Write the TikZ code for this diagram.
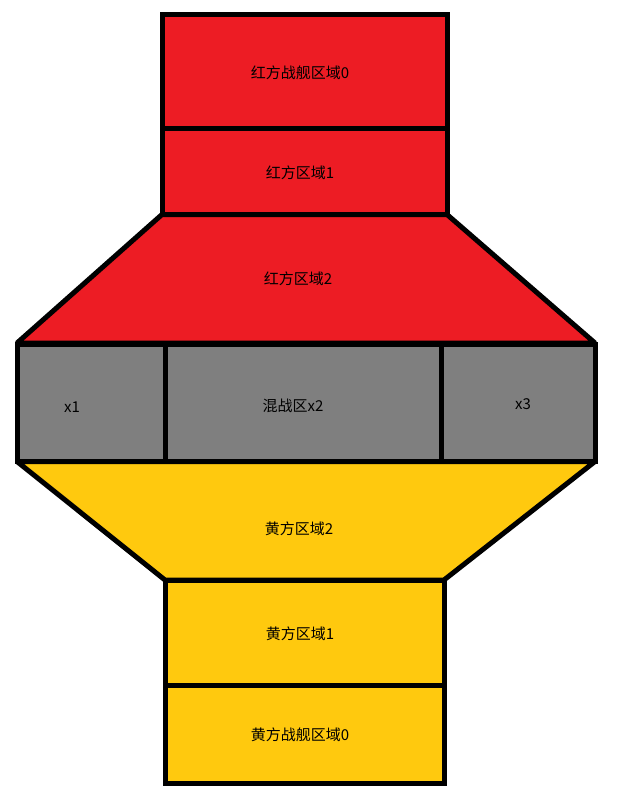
\documentclass[tikz,border=0pt]{standalone}
\usepackage{fontspec}
\newfontfamily\cjk{Noto Sans CJK SC}
\usetikzlibrary{positioning}
\definecolor{paintred}{RGB}{237,28,36}
\definecolor{paintgray}{RGB}{127,127,127}
\definecolor{paintyellow}{RGB}{255,201,14}

\begin{document}
\begin{tikzpicture}[x=1pt,y=-1pt,font=\cjk\fontsize{15}{18}\selectfont,
    zone/.style={draw=black,line width=5pt,line join=miter},
    slope/.style={draw=black,line width=5pt,line join=bevel},
    lbl/.style={inner sep=0pt,text=black}]
  \useasboundingbox (0,0) rectangle (620,796);
  % red side
  \filldraw[slope,fill=paintred] (162,214.5) -- (447,214.5) -- (595,343) -- (17,343) -- cycle;
  \filldraw[zone,fill=paintred] (162,14.5) rectangle (447,128);
  \filldraw[zone,fill=paintred] (162,128) rectangle (447,214.5);
  % yellow side
  \filldraw[slope,fill=paintyellow] (17,461.5) -- (595,461.5) -- (444,580) -- (165,580) -- cycle;
  \filldraw[zone,fill=paintyellow] (165,580) rectangle (444,685.5);
  \filldraw[zone,fill=paintyellow] (165,685.5) rectangle (444,783.5);
  % middle row
  \filldraw[zone,fill=paintgray] (17,344) rectangle (165,461.5);
  \filldraw[zone,fill=paintgray] (165,344) rectangle (441,461.5);
  \filldraw[zone,fill=paintgray] (441,344) rectangle (595,461.5);
  % labels
  \node[lbl] (red0) at (300,73) {红方战舰区域0};
  \node[lbl] (red1) at (300,173) {红方区域1};
  \node[lbl] (red2) at (298,279) {红方区域2};
  \node[lbl] (mx1) at (72,407) {x1};
  \node[lbl] (mx2) at (293,406) {混战区x2};
  \node[lbl] (mx3) at (523,404) {x3};
  \node[lbl] (yel2) at (299,529) {黄方区域2};
  \node[lbl] (yel1) at (300,634) {黄方区域1};
  \node[lbl] (yel0) at (300,735) {黄方战舰区域0};
\end{tikzpicture}
\end{document}
